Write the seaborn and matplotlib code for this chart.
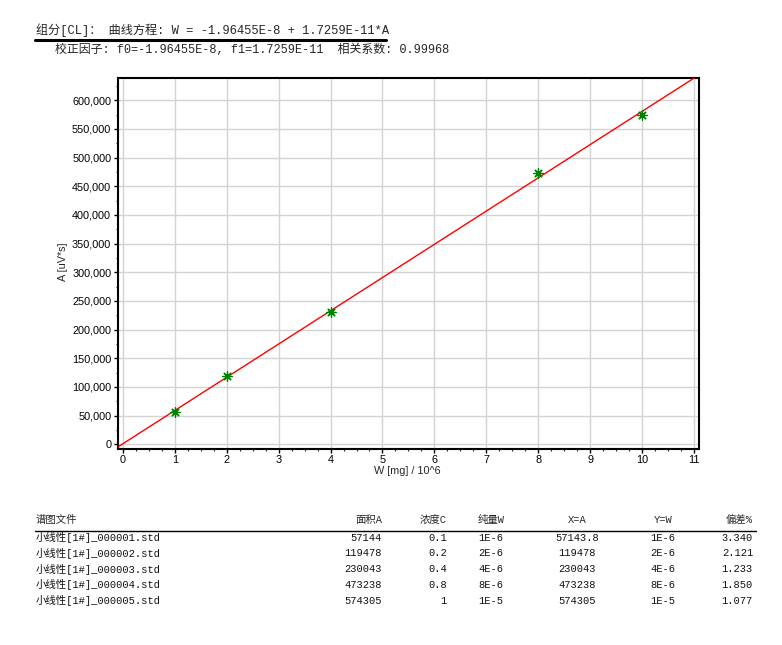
import matplotlib
matplotlib.use("Agg")
import matplotlib.pyplot as plt
import seaborn as sns
import numpy as np
import pandas as pd
from matplotlib.lines import Line2D
from matplotlib.ticker import MultipleLocator, FuncFormatter, AutoMinorLocator

# ---------------- data ----------------
f0 = -1.96455e-8
f1 = 1.7259e-11
r_coef = "0.99968"
x_scale = 1e-6  # W axis is in units of 10^-6 mg

files = ["小线性[1#]_000001.std", "小线性[1#]_000002.std", "小线性[1#]_000003.std",
         "小线性[1#]_000004.std", "小线性[1#]_000005.std"]
area_A = [57144, 119478, 230043, 473238, 574305]
conc_C = ["0.1", "0.2", "0.4", "0.8", "1"]
pure_W = ["1E-6", "2E-6", "4E-6", "8E-6", "1E-5"]
w_units = [1, 2, 4, 8, 10]
x_eq_A = ["57143.8", "119478", "230043", "473238", "574305"]
y_eq_W = ["1E-6", "2E-6", "4E-6", "8E-6", "1E-5"]
dev_pct = ["3.340", "2.121", "1.233", "1.850", "1.077"]

headers = ["谱图文件", "面积A", "浓度C", "纯量W", "X=A", "Y=W", "偏差%"]
title1 = "组分[CL]： 曲线方程: W = -1.96455E-8 + 1.7259E-11*A"
title2 = "校正因子: f0=-1.96455E-8, f1=1.7259E-11  相关系数: 0.99968"
xlabel = "W [mg] / 10^6"
ylabel = "A [uV*s]"

# ---------------- figure ----------------
W, H = 782, 645
sns.set_theme(style="white")
plt.rcParams['font.family'] = ['Liberation Sans', 'Noto Sans CJK SC', 'DejaVu Sans']
fig = plt.figure(figsize=(W / 100, H / 100), dpi=100)
fig.patch.set_facecolor("white")

def px(x, y):
    return x / W, 1 - y / H

ax_l, ax_r, ax_t, ax_b = 117.5, 699, 78, 449
ax = fig.add_axes([ax_l / W, 1 - ax_b / H, (ax_r - ax_l) / W, (ax_b - ax_t) / H])

xmin, xmax = -0.106, 11.1
ymin, ymax = -8200, 638900
ax.set_xlim(xmin, xmax)
ax.set_ylim(ymin, ymax)

# regression line from coefficients
xs = np.array([xmin, xmax])
ys = (xs * x_scale - f0) / f1
line_df = pd.DataFrame({"x": xs, "y": ys})
sns.lineplot(data=line_df, x="x", y="y", ax=ax, color="#ff0000", linewidth=1.0, zorder=3)

pts = pd.DataFrame({"x": w_units, "y": area_A})
sns.scatterplot(data=pts, x="x", y="y", ax=ax, marker=(8, 2, 0), s=45,
                color="#008000", linewidth=0.9, zorder=4)

ax.xaxis.set_major_locator(MultipleLocator(1))
ax.yaxis.set_major_locator(MultipleLocator(50000))
ax.xaxis.set_minor_locator(AutoMinorLocator(4))
ax.yaxis.set_minor_locator(AutoMinorLocator(2))
ax.yaxis.set_major_formatter(FuncFormatter(lambda v, p: f"{int(round(v)):,}"))
ax.grid(True, which="major", color="#d3d3d3", linewidth=1.0)
ax.set_axisbelow(True)
ax.tick_params(which="major", direction="out", length=3, width=1, pad=1.5,
               labelsize=7.8, colors="black", left=True, bottom=True)
ax.tick_params(which="minor", direction="out", length=1.5, width=0.8, left=True, bottom=True)
for s in ax.spines.values():
    s.set_color("black")
    s.set_linewidth(1.5)
ax.set_xlabel("")
ax.set_ylabel("")

fig.text(*px(63, 262), ylabel, rotation=90, ha="center", va="center", fontsize=7.8)
fig.text(*px(407, 471.5), xlabel, ha="center", va="center", fontsize=7.8)

# ---------------- header texts ----------------
mono = ['Liberation Mono', 'Noto Sans CJK SC']
fig.text(*px(35.7, 30), title1, ha="left", va="center", fontsize=8.75, family=mono)
fig.add_artist(Line2D([35 / W, 386 / W], [1 - 39.5 / H] * 2, transform=fig.transFigure,
                      color="black", linewidth=2.2))
fig.text(*px(55, 49.5), title2, ha="left", va="center", fontsize=8.6, family=mono)

# ---------------- table ----------------
col_x = [36, 382, 447, 491, 577, 663, 753]
col_ha = ["left", "right", "right", "center", "center", "center", "right"]
hdr_y = 520
fs_t = 7.5
for x, ha, h in zip(col_x, col_ha, headers):
    fig.text(*px(x, hdr_y), h, ha=ha, va="center", fontsize=fs_t, family=mono)
fig.add_artist(Line2D([35 / W, 756 / W], [1 - 530.7 / H] * 2, transform=fig.transFigure,
                      color="black", linewidth=1.0))
row_y0, row_dy = 537.7, 15.75
for i in range(len(files)):
    y = row_y0 + i * row_dy
    vals = [files[i], str(area_A[i]), conc_C[i], pure_W[i], x_eq_A[i], y_eq_W[i], dev_pct[i]]
    for x, ha, v in zip(col_x, col_ha, vals):
        fig.text(*px(x, y), v, ha=ha, va="center", fontsize=fs_t, family=mono, color="#111111")

fig.savefig("out.png", dpi=100, facecolor="white")
